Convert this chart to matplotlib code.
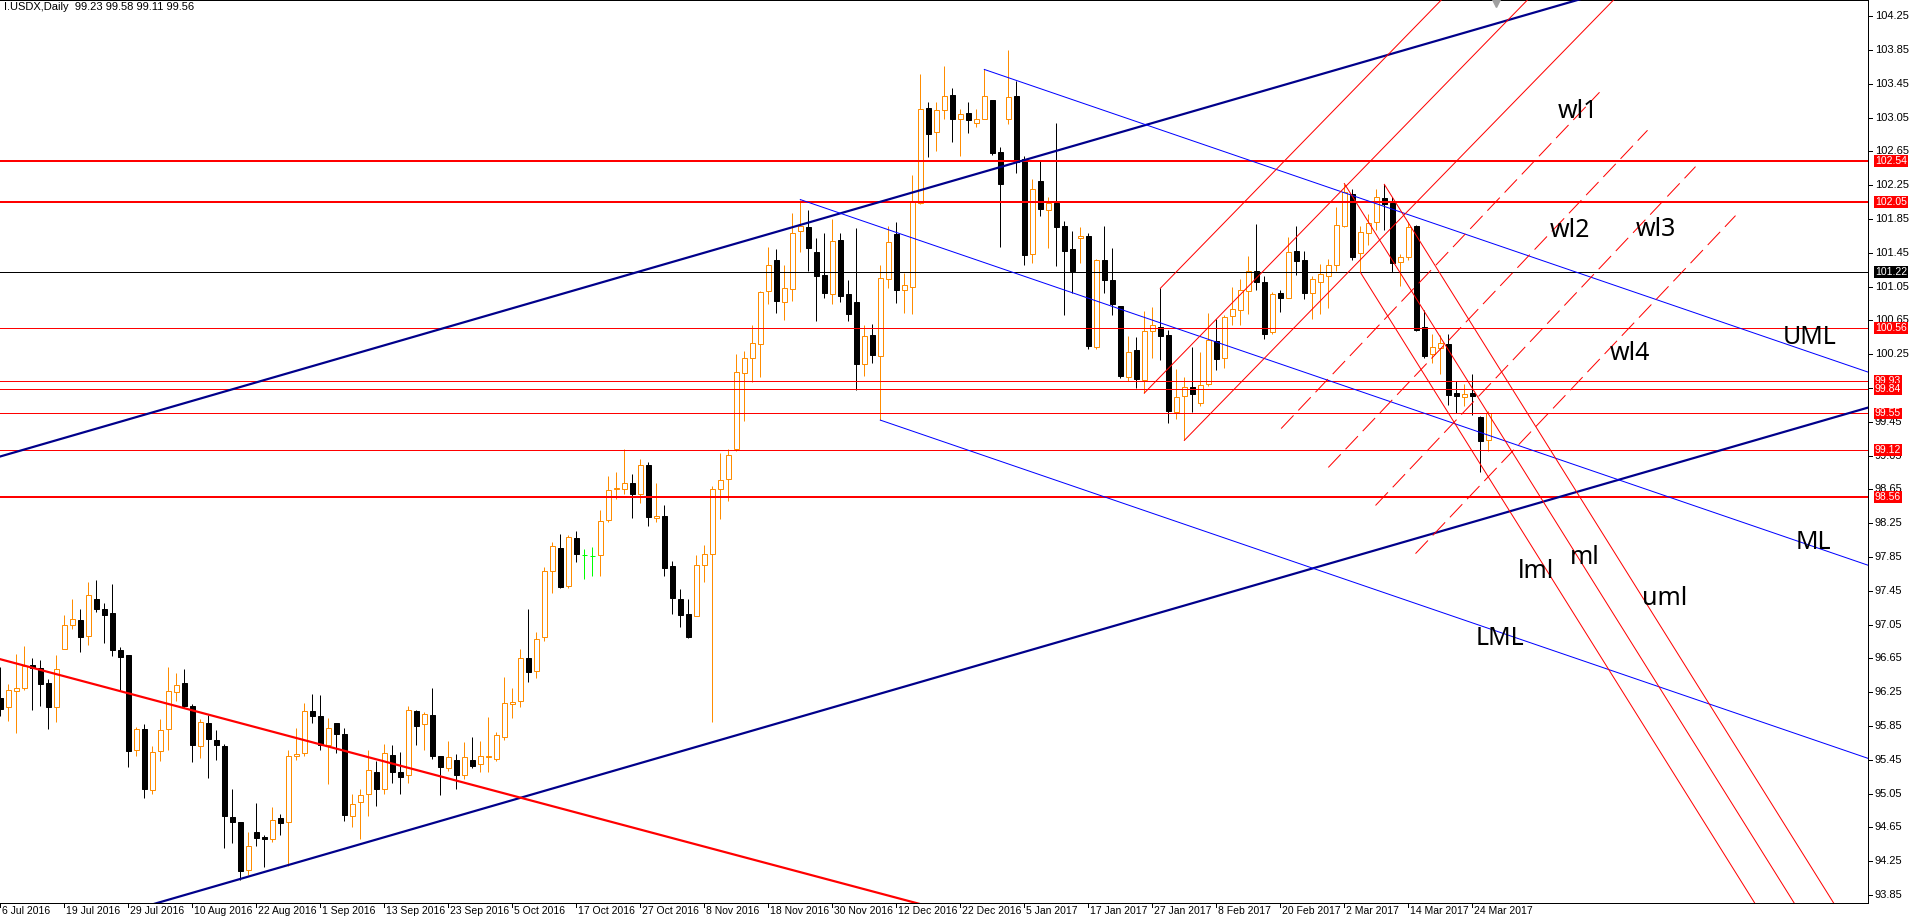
import matplotlib
matplotlib.use('Agg')
import matplotlib.pyplot as plt

plt.rcParams['lines.scale_dashes'] = False
plt.rcParams['font.family'] = ['Liberation Sans', 'DejaVu Sans']

# ---------------- data ----------------
title_text = "I.USDX,Daily  99.23 99.58 99.11 99.56"

opens = [96.18, 96.07, 96.26, 96.30, 96.57, 96.54, 96.36, 96.07, 96.76, 97.04,
         97.11, 96.91, 97.35, 97.24, 97.19, 96.75, 96.69, 95.57, 95.82, 95.09,
         95.55, 95.81, 96.25, 96.36, 96.09, 95.61, 95.89, 95.68, 95.61, 94.77,
         94.71, 94.15, 94.59, 94.54, 94.51, 94.76, 94.71, 95.50, 95.53, 96.03,
         95.97, 95.62, 95.88, 95.76, 94.79, 94.95, 95.04, 95.30, 95.11, 95.51,
         95.30, 95.27, 96.03, 95.87, 95.98, 95.50, 95.35, 95.45, 95.27, 95.45,
         95.40, 95.48, 95.46, 95.72, 96.11, 96.14, 96.65, 96.50, 96.90, 97.68,
         97.96, 97.51, 98.07, 97.87, 97.86, 97.87, 98.29, 98.65, 98.66, 98.73,
         98.60, 98.94, 98.31, 98.34, 97.74, 97.35, 97.17, 97.15, 97.75, 97.88,
         98.66, 98.77, 99.13, 100.03, 100.21, 100.37, 101.00, 101.36, 100.87, 101.02,
         101.71, 101.76, 101.46, 101.19, 100.96, 101.60, 100.96, 100.87, 100.13, 100.48,
         100.23, 101.14, 101.67, 101.01, 101.05, 102.04, 103.16, 102.88, 103.14, 103.32,
         103.03, 103.10, 102.99, 103.03, 103.26, 102.64, 103.03, 103.31, 102.56, 101.44,
         102.30, 101.96, 102.04, 101.77, 101.49, 101.62, 101.65, 100.34, 101.36, 101.13,
         100.82, 99.98, 100.30, 99.95, 100.52, 100.57, 100.48, 99.57, 99.75, 99.86,
         99.67, 99.90, 100.41, 100.20, 100.70, 100.77, 101.00, 101.24, 101.11, 100.51,
         100.97, 100.91, 101.47, 101.36, 100.98, 101.11, 101.18, 101.31, 101.77, 102.15,
         101.45, 101.69, 101.81, 102.10, 102.04, 101.34, 101.40, 101.77, 100.57, 100.25,
         100.32, 100.37, 99.79, 99.74, 99.79, 99.51, 99.23]
highs = [96.55, 96.35, 96.70, 96.80, 96.65, 96.63, 96.41, 96.69, 97.16, 97.35,
         97.23, 97.55, 97.58, 97.31, 97.53, 96.78, 96.69, 95.84, 95.87, 95.61,
         95.93, 96.55, 96.48, 96.52, 96.11, 95.93, 95.98, 95.80, 95.64, 95.11,
         94.71, 94.60, 94.94, 94.56, 94.89, 94.81, 95.57, 95.83, 96.12, 96.23,
         96.22, 95.94, 95.88, 95.83, 95.05, 95.11, 95.57, 95.43, 95.64, 95.63,
         95.54, 96.09, 96.04, 96.02, 96.30, 95.50, 95.67, 95.52, 95.66, 95.72,
         95.67, 95.96, 95.78, 96.43, 96.30, 96.76, 97.23, 96.96, 97.73, 98.03,
         98.12, 98.11, 98.16, 97.95, 97.97, 98.41, 98.81, 98.86, 99.13, 98.83,
         99.01, 98.97, 98.73, 98.46, 97.80, 97.47, 97.35, 97.87, 97.99, 98.69,
         99.08, 99.13, 100.25, 100.29, 100.59, 101.00, 101.52, 101.50, 101.31, 101.92,
         102.08, 101.96, 101.62, 101.68, 101.85, 101.68, 101.13, 101.74, 100.60, 100.61,
         101.31, 101.77, 101.82, 101.21, 102.37, 103.57, 103.23, 103.23, 103.66, 103.40,
         103.15, 103.23, 103.15, 103.62, 103.26, 102.70, 103.85, 103.48, 102.59, 102.32,
         102.54, 102.11, 102.99, 101.83, 101.71, 101.76, 101.68, 101.38, 101.77, 101.51,
         100.82, 100.46, 100.45, 100.76, 100.81, 101.03, 100.54, 100.08, 99.98, 100.34,
         100.28, 100.74, 100.67, 100.71, 101.05, 101.14, 101.41, 101.79, 101.18, 100.99,
         101.01, 101.64, 101.77, 101.47, 101.18, 101.32, 101.38, 101.99, 102.27, 102.21,
         101.77, 101.91, 102.20, 102.26, 102.11, 101.43, 101.82, 101.78, 100.77, 100.49,
         100.48, 100.49, 99.93, 99.90, 100.02, 99.52, 99.58]
lows = [95.97, 95.91, 95.77, 96.27, 96.04, 96.09, 95.82, 95.90, 96.76, 97.00,
        96.73, 96.81, 97.20, 96.83, 96.68, 96.26, 95.37, 95.50, 95.00, 95.05,
        95.43, 95.56, 96.14, 96.06, 95.42, 95.47, 95.23, 95.45, 94.41, 94.47,
        94.03, 94.09, 94.43, 94.18, 94.48, 94.56, 94.19, 95.45, 95.49, 95.88,
        95.56, 95.16, 95.53, 94.73, 94.66, 94.51, 94.78, 94.90, 95.05, 95.17,
        95.04, 95.17, 95.63, 95.57, 95.46, 95.03, 95.32, 95.10, 95.22, 95.35,
        95.31, 95.31, 95.43, 95.69, 95.94, 96.07, 96.37, 96.42, 96.86, 97.42,
        97.48, 97.48, 97.79, 97.59, 97.62, 97.62, 98.27, 98.54, 98.60, 98.31,
        98.49, 98.22, 98.27, 97.63, 97.17, 97.02, 96.89, 97.15, 97.55, 95.90,
        98.30, 98.51, 99.10, 99.46, 99.92, 99.98, 100.85, 100.74, 100.65, 100.88,
        101.46, 101.23, 100.64, 100.92, 100.85, 100.87, 100.64, 99.83, 99.99, 100.15,
        99.47, 101.03, 100.86, 100.74, 100.73, 102.03, 102.58, 102.66, 103.03, 102.76,
        102.59, 102.87, 102.94, 103.03, 102.61, 101.52, 102.98, 102.39, 101.30, 101.33,
        101.89, 101.51, 101.29, 100.71, 100.98, 101.33, 100.31, 100.31, 100.98, 100.71,
        99.97, 99.93, 99.85, 99.79, 100.21, 100.18, 99.44, 99.48, 99.23, 99.57,
        99.64, 99.87, 100.06, 100.09, 100.59, 100.59, 100.72, 101.01, 100.43, 100.49,
        100.75, 100.91, 101.19, 100.90, 100.67, 100.72, 100.80, 101.24, 101.76, 101.37,
        101.22, 101.54, 101.72, 101.72, 101.22, 101.06, 101.36, 100.52, 100.21, 100.15,
        100.02, 99.65, 99.55, 99.64, 99.53, 98.86, 99.11]
closes = [96.05, 96.27, 96.30, 96.56, 96.54, 96.35, 96.08, 96.53, 97.05, 97.12,
          96.90, 97.40, 97.24, 97.16, 96.75, 96.67, 95.55, 95.81, 95.10, 95.54,
          95.80, 96.26, 96.34, 96.09, 95.62, 95.90, 95.70, 95.62, 94.78, 94.71,
          94.13, 94.43, 94.52, 94.51, 94.74, 94.70, 95.49, 95.52, 96.03, 95.97,
          95.62, 95.83, 95.76, 94.80, 94.93, 95.03, 95.33, 95.10, 95.53, 95.31,
          95.25, 96.04, 95.85, 95.99, 95.50, 95.36, 95.48, 95.27, 95.48, 95.38,
          95.50, 95.49, 95.74, 96.12, 96.13, 96.66, 96.49, 96.88, 97.69, 97.98,
          97.50, 98.09, 97.88, 97.87, 97.86, 98.28, 98.64, 98.67, 98.72, 98.60,
          98.94, 98.32, 98.33, 97.72, 97.36, 97.16, 96.90, 97.75, 97.88, 98.65,
          98.76, 99.06, 100.04, 100.20, 100.38, 100.99, 101.31, 100.88, 101.03, 101.69,
          101.77, 101.51, 101.18, 100.97, 101.59, 100.94, 100.72, 100.13, 100.47, 100.24,
          101.15, 101.58, 101.01, 101.07, 102.06, 103.15, 102.86, 103.14, 103.30, 103.03,
          103.09, 103.02, 103.03, 103.30, 102.63, 102.27, 103.29, 102.53, 101.42, 102.21,
          101.97, 102.04, 101.75, 101.47, 101.24, 101.65, 100.35, 101.36, 101.13, 100.84,
          99.99, 100.28, 99.96, 100.52, 100.59, 100.46, 99.58, 99.74, 99.86, 99.78,
          99.89, 100.42, 100.19, 100.69, 100.78, 101.01, 101.24, 101.11, 100.49, 100.96,
          100.92, 101.46, 101.35, 100.98, 101.14, 101.20, 101.31, 101.78, 102.17, 101.40,
          101.70, 101.80, 102.11, 102.03, 101.33, 101.40, 101.75, 100.54, 100.23, 100.34,
          100.38, 99.77, 99.75, 99.78, 99.76, 99.22, 99.56]

date_labels = ["6 Jul 2016", "19 Jul 2016", "29 Jul 2016", "10 Aug 2016", "22 Aug 2016",
               "1 Sep 2016", "13 Sep 2016", "23 Sep 2016", "5 Oct 2016", "17 Oct 2016",
               "27 Oct 2016", "8 Nov 2016", "18 Nov 2016", "30 Nov 2016", "12 Dec 2016",
               "22 Dec 2016", "5 Jan 2017", "17 Jan 2017", "27 Jan 2017", "8 Feb 2017",
               "20 Feb 2017", "2 Mar 2017", "14 Mar 2017", "24 Mar 2017"]
label_step = 8

price_ticks = [93.85, 94.25, 94.65, 95.05, 95.45, 95.85, 96.25, 96.65, 97.05, 97.45,
               97.85, 98.25, 98.65, 99.05, 99.45, 99.85, 100.25, 100.65, 101.05, 101.45,
               101.85, 102.25, 102.65, 103.05, 103.45, 103.85, 104.25]

h_levels = [102.54, 102.05, 101.22, 100.56, 99.93, 99.84, 99.55, 99.12, 98.56]
h_colors = ['#FF0000', '#FF0000', '#000000', '#FF0000', '#FF0000', '#FF0000',
            '#FF0000', '#FF0000', '#FF0000']
h_thick = [True, True, False, False, False, False, False, False, True]
bid_price = 99.56

navy_upper = [(0, 99.04), (150, 103.15)]
navy_lower = [(30, 94.04), (150, 97.33)]
red_trend = [(0, 96.64), (100, 94.12)]

blue_fork = [(100, 102.08), (123, 103.62), (110, 99.47)]
red_fork_up = [(143, 99.79), (145, 101.03), (148, 99.23)]
red_fork_down = [(168, 102.27), (173, 102.26), (170, 101.22)]

warning_lines = [((160.1, 99.37), (199.9, 103.35)),
                 ((166.0, 98.91), (205.9, 102.90)),
                 ((171.9, 98.46), (211.9, 102.47)),
                 ((176.9, 97.89), (216.9, 101.89))]

text_labels = [("wl1", 197.2, 103.12), ("wl2", 196.2, 101.71), ("wl3", 207.0, 101.72),
               ("wl4", 203.7, 100.26), ("UML", 226.2, 100.45), ("ML", 226.6, 98.02),
               ("lml", 192.0, 97.68), ("ml", 198.1, 97.84), ("uml", 208.0, 97.36),
               ("LML", 187.5, 96.88)]

# ---------------- figure ----------------
W, H = 1915, 923
PX = 0.72  # points per pixel at dpi 100
fig = plt.figure(figsize=(W / 100, H / 100), dpi=100)
plot_w, plot_h = 1868, 903
ax = fig.add_axes([0, (H - plot_h) / H, plot_w / W, plot_h / H])
ax.set_xlim(-0.04, 233.46)
ax.set_ylim(93.755, 104.442)
ax.set_facecolor('white')
ax.spines['left'].set_visible(False)
for s in ['right', 'top', 'bottom']:
    ax.spines[s].set_color('black')
    ax.spines[s].set_linewidth(1 * PX)
ax.set_xticks([])
ax.set_yticks([])

ORANGE = '#FF8C00'
LIME = '#00FF00'
body_w = 0.55

for k, (o, h, l, c) in enumerate(zip(opens, highs, lows, closes)):
    if abs(c - o) < 1e-9:
        ax.vlines(k, l, h, color=LIME, lw=1 * PX, zorder=2)
        ax.hlines(o, k - body_w / 2, k + body_w / 2, color=LIME, lw=1 * PX, zorder=2)
    elif c > o:
        ax.vlines(k, l, h, color=ORANGE, lw=1 * PX, zorder=2)
        ax.bar(k, c - o, bottom=o, width=body_w, facecolor='white',
               edgecolor=ORANGE, linewidth=1 * PX, zorder=3)
    else:
        ax.vlines(k, l, h, color='black', lw=1 * PX, zorder=2)
        ax.bar(k, o - c, bottom=c, width=body_w, facecolor='black',
               edgecolor='black', linewidth=1 * PX, zorder=3)

# horizontal lines
ax.axhline(bid_price, color='#A0A0A0', lw=1 * PX, zorder=4)
for lev, col, thick in zip(h_levels, h_colors, h_thick):
    ax.axhline(lev, color=col, lw=(2 if thick else 1) * PX, zorder=5)


def ray(p0, p1, k_start, k_end, **kw):
    s = (p1[1] - p0[1]) / (p1[0] - p0[0])
    ax.plot([k_start, k_end], [p0[1] + s * (k_start - p0[0]), p0[1] + s * (k_end - p0[0])],
            solid_capstyle='butt', **kw)


ray(navy_upper[0], navy_upper[1], -10, 300, color='#00008B', lw=2.2 * PX, zorder=6)
ray(navy_lower[0], navy_lower[1], 15, 300, color='#00008B', lw=2.2 * PX, zorder=6)
ray(red_trend[0], red_trend[1], -10, 140, color='#FF0000', lw=2.2 * PX, zorder=6)


def fork(p1, p2, p3, color):
    mk = (p2[0] + p3[0]) / 2.0
    mp = (p2[1] + p3[1]) / 2.0
    s = (mp - p1[1]) / (mk - p1[0])
    for (k0, p0) in (p1, p2, p3):
        ax.plot([k0, 320], [p0, p0 + s * (320 - k0)], color=color, lw=1 * PX, zorder=6)


fork(*blue_fork, color='#0000FF')
fork(*red_fork_up, color='#FF0000')
fork(*red_fork_down, color='#FF0000')

for (a, b) in warning_lines:
    ax.plot([a[0], b[0]], [a[1], b[1]], color='#FF0000', lw=1 * PX,
            dashes=(13, 5), zorder=6)

for txt, k, p in text_labels:
    ax.text(k, p, txt, fontsize=18, ha='center', va='center', color='black',
            family=['Noto Sans', 'DejaVu Sans'], zorder=8)

# chart shift marker
ax.plot([187], [104.442 - 3 / 84.5], marker='v', color='#A0A0A0', markersize=6,
        clip_on=False, zorder=9)

# title
fig.text(4 / W, 1 - 2 / H, title_text, fontsize=8, ha='left', va='top', color='black')

# price axis
ytr = ax.get_yaxis_transform()
dx_tick = 4 / plot_w
for p in price_ticks:
    ax.plot([1.0, 1.0 + dx_tick], [p, p], transform=ytr, color='black',
            lw=1 * PX, clip_on=False)
    ax.text(1.0 + 7 / plot_w, p, "%.2f" % p, transform=ytr, fontsize=8,
            ha='left', va='center', color='black', clip_on=False, zorder=10)
for lev, col in zip(h_levels, h_colors):
    ax.text(1.0 + 7 / plot_w, lev, "%.2f" % lev, transform=ytr, fontsize=7.5,
            ha='left', va='center', color='white', clip_on=False, zorder=12,
            bbox=dict(boxstyle='square,pad=0.08', fc=col, ec='none'))

# time axis
xtr = ax.get_xaxis_transform()
dy_tick = 4 / plot_h
for i, lab in enumerate(date_labels):
    k = i * label_step
    ax.plot([k, k], [0, -dy_tick], transform=xtr, color='black', lw=1 * PX, clip_on=False)
    ax.text(k + 0.25, -3 / plot_h, lab, transform=xtr, fontsize=7.5, ha='left', va='top',
            color='black', clip_on=False)

fig.savefig('out.png', dpi=100, facecolor='white')
